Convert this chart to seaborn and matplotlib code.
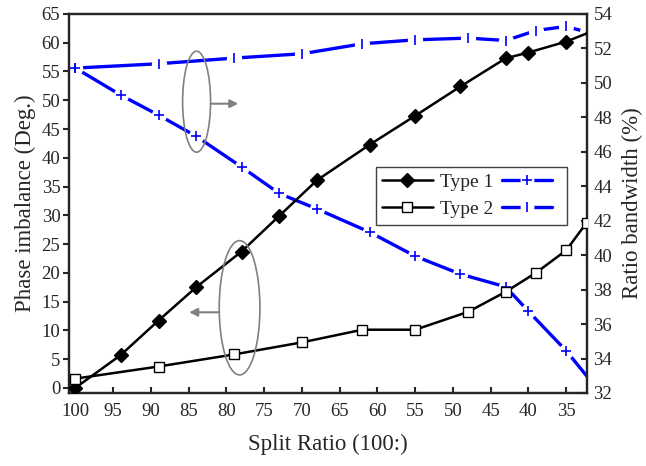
import matplotlib
matplotlib.use("Agg")
import matplotlib.pyplot as plt
from matplotlib.lines import Line2D
from matplotlib.patches import Ellipse
import seaborn as sns

# Data
split_t1 = [100, 94, 89, 84, 78, 73, 68, 61, 55, 49, 43, 40, 35, 30]
phase_t1 = [0.0, 5.7, 11.7, 17.5, 23.7, 29.9, 36.1, 42.3, 47.3, 52.4, 57.3, 58.3, 60.2, 62.8]
bw_t1 = [50.86, 49.29, 48.13, 46.9, 45.12, 43.58, 42.68, 41.33, 39.94, 38.9, 38.16, 36.74, 34.45, 31.76]

split_t2 = [100, 89, 79, 70, 62, 55, 48, 43, 39, 35, 32.3]
phase_t2 = [1.6, 3.7, 5.8, 7.9, 10.1, 10.1, 13.2, 16.7, 20.0, 23.9, 28.7]
bw_t2 = [50.86, 51.11, 51.44, 51.69, 52.27, 52.5, 52.6, 52.46, 53.04, 53.28, 52.95]

x_ticks = list(range(100, 34, -5))
left_ticks = list(range(0, 66, 5))
right_ticks = list(range(32, 55, 2))

sns.set_style("ticks")
plt.rcParams['font.family'] = ['Liberation Serif', 'DejaVu Serif']

fig = plt.figure(figsize=(6.46, 4.66), dpi=100)
fig.subplots_adjust(left=0.1063, right=0.908, bottom=0.1567, top=0.97)
ax = fig.add_subplot(111)
ax2 = ax.twinx()
ax.set_zorder(ax2.get_zorder() + 1)
ax.patch.set_visible(False)

blue = '#0000FF'

# bandwidth curves (right axis): line, white gap around symbol, symbol
sns.lineplot(x=split_t1, y=bw_t1, ax=ax2, color=blue, lw=2.4, zorder=2)
sns.lineplot(x=split_t2, y=bw_t2, ax=ax2, color=blue, lw=2.4, zorder=2)
ax2.plot(split_t1, bw_t1, ls='', marker='o', ms=10, mfc='white', mec='white', zorder=2.5)
ax2.plot(split_t2, bw_t2, ls='', marker='o', ms=10, mfc='white', mec='white', zorder=2.5)
ax2.plot(split_t1, bw_t1, ls='', marker='+', ms=7, mew=1.2, color=blue, zorder=3)
ax2.plot(split_t2, bw_t2, ls='', marker='|', ms=7, mew=1.2, color=blue, zorder=3)

# phase curves (left axis)
sns.lineplot(x=split_t1, y=phase_t1, ax=ax, color='black', lw=1.8, marker='D', ms=7,
             mfc='black', mec='black', mew=1, zorder=3)
sns.lineplot(x=split_t2, y=phase_t2, ax=ax, color='black', lw=1.8, marker='s', ms=6.5,
             mfc='white', mec='black', mew=1, zorder=3)

ax.set_xlim(100.9, 32.3)
ax.set_ylim(-0.9, 65)
ax2.set_ylim(32, 54)
ax.set_xticks(x_ticks)
ax.set_yticks(left_ticks)
ax2.set_yticks(right_ticks)

ax.set_xlabel("Split Ratio (100:)", fontsize=16.5, labelpad=10)
ax.set_ylabel("Phase imbalance (Deg.)", fontsize=16.5, labelpad=4)
ax2.set_ylabel("Ratio bandwidth (%)", fontsize=16.5, labelpad=7)

ax.tick_params(axis='x', direction='in', length=4.5, width=1.5, labelsize=13.5, pad=7, top=False)
ax.tick_params(axis='y', direction='out', length=4.5, width=1.5, labelsize=13.5, pad=1.5, right=False)
ax2.tick_params(axis='y', direction='in', length=4.5, width=1.5, labelsize=13.5, pad=5)
for a in (ax, ax2):
    for s in a.spines.values():
        s.set_linewidth(1.6)
        s.set_visible(True)

# grey ellipses with arrows pointing to each axis
ax.add_patch(Ellipse((0.247, 0.7686), 0.054, 0.2665, transform=ax.transAxes,
                     fill=False, ec='gray', lw=1.2, zorder=5))
ax.add_patch(Ellipse((0.330, 0.2248), 0.0786, 0.3544, transform=ax.transAxes,
                     fill=False, ec='gray', lw=1.2, zorder=5))
ax.annotate("", xy=(0.3274, 0.7633), xytext=(0.2741, 0.7633), xycoords='axes fraction',
            arrowprops=dict(arrowstyle='-|>', color='gray', lw=1.5, mutation_scale=12,
                            shrinkA=0, shrinkB=0))
ax.annotate("", xy=(0.2328, 0.2129), xytext=(0.2907, 0.2129), xycoords='axes fraction',
            arrowprops=dict(arrowstyle='-|>', color='gray', lw=1.5, mutation_scale=12,
                            shrinkA=0, shrinkB=0))

# legend: black handle, label, then blue handle
h1 = Line2D([], [], color='black', lw=1.8, marker='D', ms=7, mfc='black', mec='black')
h2 = Line2D([], [], color='black', lw=1.8, marker='s', ms=6.5, mfc='white', mec='black')
bl = Line2D([], [], color=blue, lw=2.4)
halo = Line2D([], [], ls='', marker='o', ms=9, mfc='white', mec='white')
p1 = Line2D([], [], ls='', marker='+', ms=7, mew=1.2, color=blue)
p2 = Line2D([], [], ls='', marker='|', ms=7, mew=1.2, color=blue)
leg = ax.legend([h1, h2, (bl, halo, p1), (bl, halo, p2)], ['Type 1', 'Type 2', '', ''],
                ncol=2, loc='upper right', bbox_to_anchor=(0.9614, 0.597), borderaxespad=0,
                fontsize=14, numpoints=1, handlelength=2.6, handletextpad=0.4,
                columnspacing=0.4, labelspacing=0.5, borderpad=0.34,
                fancybox=False, framealpha=1, edgecolor='#404040')
leg.get_frame().set_linewidth(1.0)

plt.savefig("out.png", dpi=100)
